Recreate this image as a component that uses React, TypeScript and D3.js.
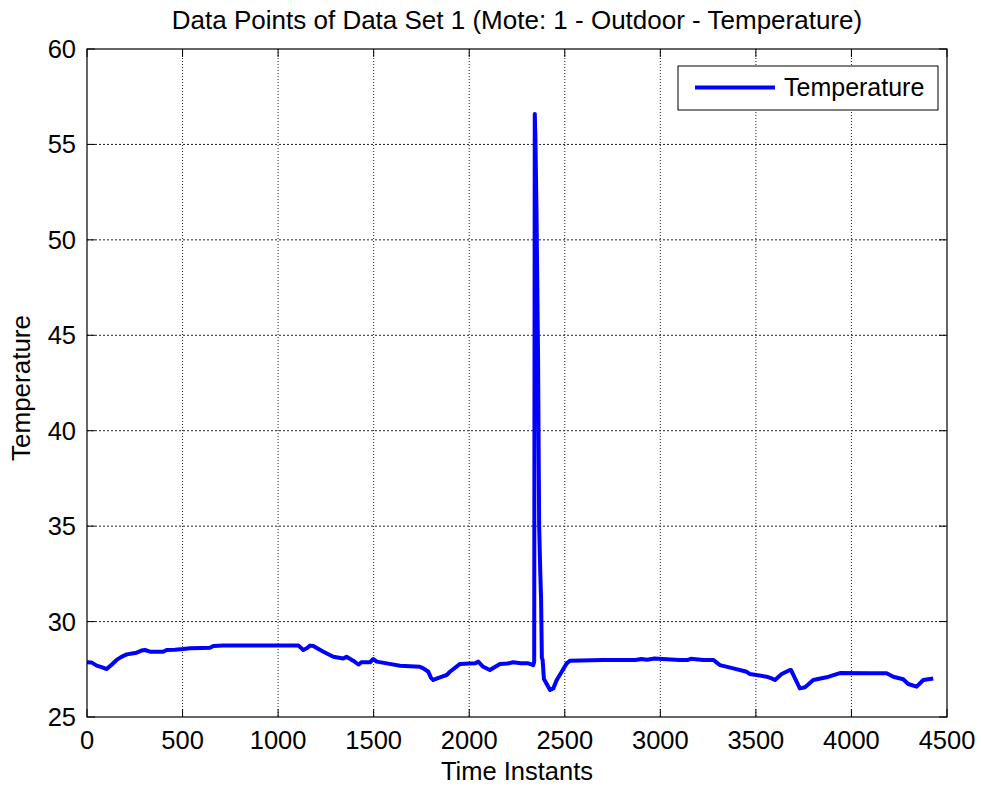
import React from "react";
import * as d3 from "d3";

const title = "Data Points of Data Set 1 (Mote: 1 - Outdoor - Temperature)";
const xLabel = "Time Instants";
const yLabel = "Temperature";
const seriesName = "Temperature";
const xTicks = [0, 500, 1000, 1500, 2000, 2500, 3000, 3500, 4000, 4500];
const yTicks = [25, 30, 35, 40, 45, 50, 55, 60];

const timeInstants = [
  0, 25, 51, 80, 103, 130, 155, 180, 208, 235, 260, 285, 303, 330, 399, 417, 460, 504, 539, 600, 644, 661, 713,
  900, 1106, 1132, 1150, 1167, 1184, 1237, 1289, 1341, 1358, 1393, 1420, 1437, 1481, 1498, 1516, 1568, 1638,
  1742, 1760, 1786, 1800, 1812, 1847, 1882, 1899, 1952, 2030, 2047, 2073, 2108, 2161, 2200, 2230, 2270, 2309,
  2335, 2340, 2343, 2346, 2352, 2360, 2366, 2372, 2376, 2380, 2384, 2391, 2423, 2440, 2458, 2484, 2510, 2527,
  2700, 2850, 2870, 2900, 2930, 2970, 3033, 3100, 3144, 3160, 3225, 3277, 3312, 3382, 3452, 3469, 3556, 3582,
  3600, 3635, 3678, 3684, 3730, 3757, 3800, 3870, 3923, 3940, 4100, 4167, 4184, 4219, 4271, 4297, 4341, 4376, 4428,
];
const temperatures = [
  27.87, 27.85, 27.69, 27.6, 27.51, 27.75, 27.99, 28.15, 28.28, 28.33, 28.37, 28.48, 28.51, 28.42, 28.42, 28.51,
  28.52, 28.56, 28.6, 28.62, 28.63, 28.72, 28.74, 28.74, 28.74, 28.51, 28.6, 28.74, 28.72, 28.42, 28.16, 28.07,
  28.16, 27.95, 27.75, 27.87, 27.87, 28.04, 27.9, 27.81, 27.69, 27.63, 27.55, 27.37, 27.05, 26.94, 27.08, 27.2,
  27.37, 27.78, 27.81, 27.9, 27.63, 27.46, 27.78, 27.8, 27.87, 27.82, 27.81, 27.72, 27.9, 56.6, 55.5, 51.5, 44,
  35, 32.5, 31.2, 28.1, 28.0, 26.99, 26.41, 26.5, 26.94, 27.37, 27.81, 27.95, 27.99, 27.99, 27.99, 28.04, 28.0,
  28.06, 28.02, 27.99, 27.99, 28.05, 27.99, 27.99, 27.72, 27.55, 27.37, 27.25, 27.11, 27.02, 26.94, 27.25, 27.46,
  27.46, 26.5, 26.56, 26.94, 27.08, 27.25, 27.3, 27.29, 27.29, 27.29, 27.11, 26.98, 26.73, 26.59, 26.94, 27.02, 27.06,
];

const W = 981;
const H = 787;
const M = { left: 87, right: 947, top: 49, bottom: 717 };
const FONT = "'Liberation Sans', Arial, sans-serif";
const FS = 25.5;

export default function App() {
  const x = d3.scaleLinear().domain([0, 4500]).range([M.left, M.right]);
  const y = d3.scaleLinear().domain([25, 60]).range([M.bottom, M.top]);
  const data = timeInstants.map((t, i) => [t, temperatures[i]] as [number, number]);
  const line = d3
    .line<[number, number]>()
    .x((d) => x(d[0]))
    .y((d) => y(d[1]));
  const tickLen = 8;
  return (
    <svg
      width={W}
      height={H}
      style={{ position: "absolute", left: 0, top: 0, background: "#fff" }}
      fontFamily={FONT}
    >
      <rect x={0} y={0} width={W} height={H} fill="#fff" />
      {/* grid */}
      {xTicks.slice(1, -1).map((t) => (
        <line key={"gx" + t} x1={x(t)} x2={x(t)} y1={M.top} y2={M.bottom} stroke="#222" strokeWidth={1} strokeDasharray="1,2" />
      ))}
      {yTicks.slice(1, -1).map((t) => (
        <line key={"gy" + t} x1={M.left} x2={M.right} y1={y(t)} y2={y(t)} stroke="#222" strokeWidth={1} strokeDasharray="2,2" />
      ))}
      {/* ticks */}
      {xTicks.map((t) => (
        <g key={"tx" + t}>
          <line x1={x(t)} x2={x(t)} y1={M.bottom} y2={M.bottom - tickLen} stroke="#000" />
          <line x1={x(t)} x2={x(t)} y1={M.top} y2={M.top + tickLen} stroke="#000" />
          <text x={x(t)} y={749} fontSize={FS} textAnchor="middle" fill="#000">
            {t}
          </text>
        </g>
      ))}
      {yTicks.map((t) => (
        <g key={"ty" + t}>
          <line x1={M.left} x2={M.left + tickLen} y1={y(t)} y2={y(t)} stroke="#000" />
          <line x1={M.right} x2={M.right - tickLen} y1={y(t)} y2={y(t)} stroke="#000" />
          <text x={76} y={y(t) + 9} fontSize={FS} textAnchor="end" fill="#000">
            {t}
          </text>
        </g>
      ))}
      {/* data */}
      <path d={line(data) || ""} fill="none" stroke="#0000ff" strokeWidth={4} strokeLinejoin="round" />
      {/* frame */}
      <rect x={M.left} y={M.top} width={M.right - M.left} height={M.bottom - M.top} fill="none" stroke="#000" strokeWidth={1.2} />
      {/* legend */}
      <rect x={678} y={66} width={260} height={44} fill="#fff" stroke="#000" strokeWidth={1} />
      <line x1={695} x2={775} y1={87.5} y2={87.5} stroke="#0000ff" strokeWidth={4} />
      <text x={784} y={96} fontSize={25} fill="#000">
        {seriesName}
      </text>
      {/* titles */}
      <text x={(M.left + M.right) / 2} y={29} fontSize={26} textAnchor="middle" fill="#000">
        {title}
      </text>
      <text x={(M.left + M.right) / 2} y={780} fontSize={FS} textAnchor="middle" fill="#000">
        {xLabel}
      </text>
      <text
        transform={`translate(30, ${388}) rotate(-90)`}
        fontSize={26}
        textAnchor="middle"
        fill="#000"
      >
        {yLabel}
      </text>
    </svg>
  );
}
